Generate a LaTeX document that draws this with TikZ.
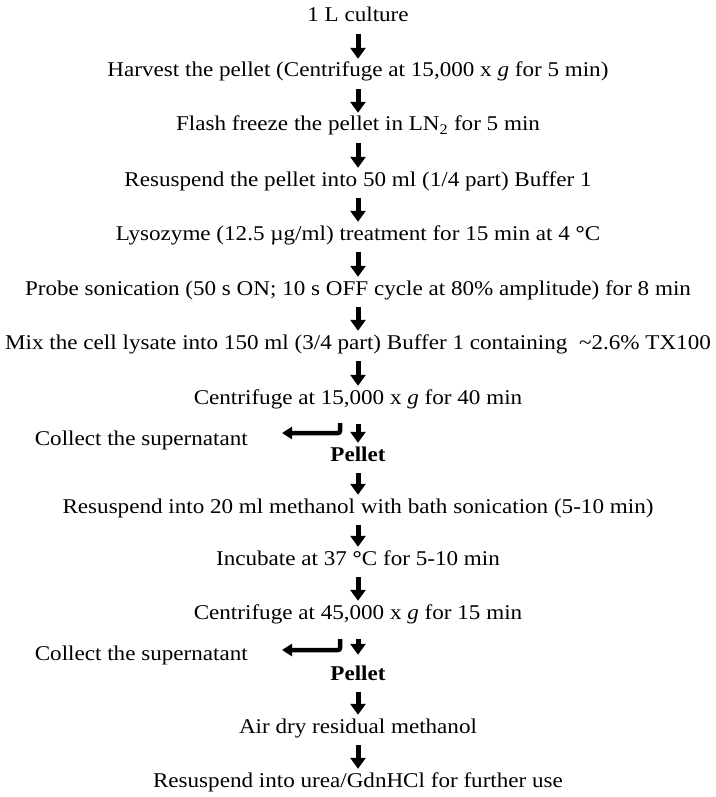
\documentclass[tikz,border=0pt]{standalone}
\usepackage{fontspec}
\setmainfont{Liberation Serif}[FakeStretch=1.1]
\usetikzlibrary{arrows.meta}

\begin{document}
\begin{tikzpicture}[x=1pt,y=-1pt,
		stepnode/.style={anchor=base, font=\fontsize{21}{25}\selectfont, inner sep=4pt, text height=14pt, text depth=5pt},
		flow/.style={line width=5pt, -{Triangle[width=15pt,length=11pt]}, shorten <=3pt},
		sideflow/.style={line width=4.5pt, rounded corners=2pt, -{Triangle[width=12pt,length=10pt]}}]
			\useasboundingbox (0,0) rectangle (715,797);

			\draw (358,22) node[stepnode] (s1) {1 L culture};
			\draw (358,77) node[stepnode] (s2) {Harvest the pellet (Centrifuge at 15,000 x \textit{g} for 5 min)};
			\draw (358,131) node[stepnode] (s3) {Flash freeze the pellet in LN\textsubscript{2} for 5 min};
			\draw (358,186) node[stepnode] (s4) {Resuspend the pellet into 50 ml (1/4 part) Buffer 1};
			\draw (358,240) node[stepnode] (s5) {Lysozyme (12.5 µg/ml) treatment for 15 min at 4 \textbf{°}C};
			\draw (358,295) node[stepnode] (s6) {Probe sonication (50 s ON; 10 s OFF cycle at 80\% amplitude) for 8 min};
			\draw (358,349) node[stepnode] (s7) {Mix the cell lysate into 150 ml (3/4 part) Buffer 1 containing \ \textasciitilde2.6\% TX100};
			\draw (358,404) node[stepnode] (s8) {Centrifuge at 15,000 x \textit{g} for 40 min};
			\draw (252,445) node[stepnode, anchor=base east] (c1) {Collect the supernatant};
			\draw (358,461) node[stepnode] (p1) {\textbf{Pellet}};
			\draw (358,513) node[stepnode] (s9) {Resuspend into 20 ml methanol with bath sonication (5-10 min)};
			\draw (358,565) node[stepnode] (s10) {Incubate at 37 \textbf{°}C for 5-10 min};
			\draw (358,619) node[stepnode] (s11) {Centrifuge at 45,000 x \textit{g} for 15 min};
			\draw (252,660) node[stepnode, anchor=base east] (c2) {Collect the supernatant};
			\draw (358,680) node[stepnode] (p2) {\textbf{Pellet}};
			\draw (358,733) node[stepnode] (s12) {Air dry residual methanol};
			\draw (358,787) node[stepnode] (s13) {Resuspend into urea/GdnHCl for further use};

			% split points for the supernatant
			\coordinate (b1) at (340,423);
			\coordinate (t1) at (282,433);
			\coordinate (b2) at (340,639);
			\coordinate (t2) at (282,650);

			\path[flow]
			(s1) edge (s2)
			(s2) edge (s3)
			(s3) edge (s4)
			(s4) edge (s5)
			(s5) edge (s6)
			(s6) edge (s7)
			(s7) edge (s8)
			(s8) edge[shorten <=11pt] (p1)
			(p1) edge (s9)
			(s9) edge (s10)
			(s10) edge (s11)
			(s11) edge[shorten <=11pt, shorten >=7pt] (p2)
			(p2) edge (s12)
			(s12) edge (s13)
			;
			\draw[sideflow] (b1) |- (t1);
			\draw[sideflow] (b2) |- (t2);
		\end{tikzpicture}
\end{document}
